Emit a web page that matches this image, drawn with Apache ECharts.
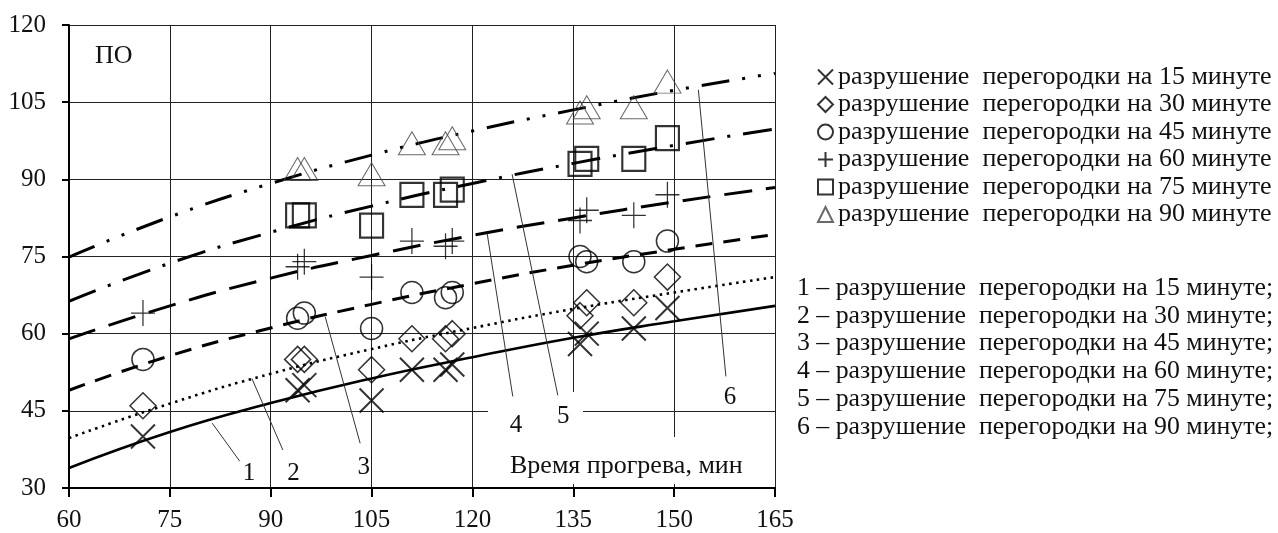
<!DOCTYPE html>
<html><head><meta charset="utf-8">
<script src="https://cdn.jsdelivr.net/npm/echarts@6/dist/echarts.min.js"></script>
<style>html,body{margin:0;padding:0;background:#fff}#c{width:1278px;height:533px}</style>
</head><body><div id="c"></div>
<script>
// ---- data ----
const xTicks = [60, 75, 90, 105, 120, 135, 150, 165];
const yTicks = [30, 45, 60, 75, 90, 105, 120];

const crossX = [71, 94, 95, 105, 111, 116, 117, 136, 137, 144, 149];
const crossY = [40, 49, 50, 47, 53, 53, 54, 58, 60, 61, 65];

const diamondX = [71, 94, 95, 105, 111, 116, 117, 136, 137, 144, 149];
const diamondY = [46, 55, 55, 53, 59, 59, 60, 63.5, 66, 66, 71];

const circleX = [71, 94, 95, 105, 111, 116, 117, 136, 137, 144, 149];
const circleY = [55, 63, 64, 61, 68, 67, 68, 75, 74, 74, 78];

const plusX = [71, 94, 95, 105, 111, 116, 117, 136, 137, 144, 149];
const plusY = [64, 73, 74, 71, 78, 77, 78, 82, 84, 83, 87];

const squareX = [94, 95, 105, 111, 116, 117, 136, 137, 144, 149];
const squareY = [83, 83, 81, 87, 87, 88, 93, 94, 94, 98];

const triangleX = [94, 95, 105, 111, 116, 117, 136, 137, 144, 149];
const triangleY = [92, 92, 91, 97, 97, 98, 103, 104, 104, 109];

const curveX = [60, 75, 90, 105, 120, 135, 150, 165];
const curve1 = [33.9, 40.9, 46.5, 51.3, 55.4, 59.2, 62.4, 65.4];
const curve2 = [39.7, 46.4, 52.2, 57.0, 61.1, 64.8, 68.0, 71.0];
const curve3 = [49.0, 55.7, 61.1, 65.7, 69.7, 73.3, 76.4, 79.3];
const curve4 = [59.0, 65.4, 70.8, 75.2, 79.1, 82.5, 85.6, 88.4];
const curve5 = [66.3, 73.7, 79.7, 84.8, 89.2, 93.1, 96.6, 99.8];
const curve6 = [74.9, 82.7, 89.2, 94.7, 99.4, 103.5, 107.3, 110.6];

const pointNames = [
  'разрушение  перегородки на 15 минуте',
  'разрушение  перегородки на 30 минуте',
  'разрушение  перегородки на 45 минуте',
  'разрушение  перегородки на 60 минуте',
  'разрушение  перегородки на 75 минуте',
  'разрушение  перегородки на 90 минуте'
];
const curveNames = [
  '1 – разрушение  перегородки на 15 минуте;',
  '2 – разрушение  перегородки на 30 минуте;',
  '3 – разрушение  перегородки на 45 минуте;',
  '4 – разрушение  перегородки на 60 минуте;',
  '5 – разрушение  перегородки на 75 минуте;',
  '6 – разрушение  перегородки на 90 минуте;'
];
const curveLabels = ['1', '2', '3', '4', '5', '6'];
const yTitle = 'ПО';
const xTitle = 'Время прогрева, мин';

// leader lines for curve labels (data coords: start on curve, end near label)
const leaders = [
  [81.3, 42.6, 85.4, 35.2],
  [87.2, 51.3, 91.8, 37.4],
  [98.1, 63.3, 103.3, 38.7],
  [122.2, 79.4, 126.0, 47.8],
  [125.9, 91.0, 132.7, 48.0],
  [153.6, 107.4, 157.7, 51.7]
];
const labelShift = [[8, -2], [10, 9], [3, 10], [3, 15], [5, 7], [4, 7]];

// ---- chart ----
const FONT = 'Liberation Serif';
const zip = (a, b) => a.map((v, i) => [v, b[i]]);

const pointSets = [
  {x: crossX, y: crossY, symbol: 'path://M0,0L10,10M10,0L0,10', size: 24, bw: 2, bc: '#000'},
  {x: diamondX, y: diamondY, symbol: 'diamond', size: [26, 26], bw: 1.5, bc: '#000'},
  {x: circleX, y: circleY, symbol: 'circle', size: 22, bw: 1.5, bc: '#000'},
  {x: plusX, y: plusY, symbol: 'path://M5,0L5,10M0,5L10,5', size: [24, 26], bw: 1.3, bc: '#000'},
  {x: squareX, y: squareY, symbol: 'rect', size: [23, 24], bw: 2.2, bc: '#000'},
  {x: triangleX, y: triangleY, symbol: 'triangle', size: [27, 23], bw: 1, bc: '#444'}
];
const curveSets = [
  {d: curve1, type: 'solid', w: 2.6},
  {d: curve2, type: [2.5, 4.5], w: 2.6},
  {d: curve3, type: [17, 11], w: 3},
  {d: curve4, type: [28, 14], w: 3},
  {d: curve5, type: [29, 13, 3, 13], w: 3},
  {d: curve6, type: [28, 13, 3, 13, 3, 13], w: 3}
];

const series = [];
curveSets.forEach((c, i) => {
  const L = leaders[i];
  series.push({
    type: 'line', name: curveNames[i], data: zip(curveX, c.d), smooth: true,
    showSymbol: false, symbol: 'none', silent: true, z: 3,
    lineStyle: {color: '#000', width: c.w, type: c.type, cap: 'butt'},
    itemStyle: {color: '#000'},
    markLine: {
      silent: true, symbol: ['none', 'none'], animation: false,
      lineStyle: {color: '#333', width: 1, type: 'solid'},
      label: {show: true, position: 'end', distance: 2, formatter: curveLabels[i],
              offset: labelShift[i],
              fontFamily: FONT, fontSize: 25, color: '#111'},
      emphasis: {disabled: true},
      data: [[{coord: [L[0], L[1]]}, {coord: [L[2], L[3]]}]]
    }
  });
});
pointSets.forEach((p, i) => {
  series.push({
    type: 'scatter', name: pointNames[i], data: zip(p.x, p.y),
    symbol: p.symbol, symbolSize: p.size, z: 4,
    itemStyle: {color: 'rgba(0,0,0,0)', borderColor: p.bc, borderWidth: p.bw}
  });
});

const chart = echarts.init(document.getElementById('c'), null, {renderer: 'canvas'});
chart.setOption({
  animation: false,
  backgroundColor: '#fff',
  grid: {left: 69, right: 503, top: 25, bottom: 43, containLabel: false},
  xAxis: {
    type: 'value', min: 60, max: 165, interval: 15,
    axisLine: {show: true, onZero: false, lineStyle: {color: '#000', width: 2}},
    axisTick: {show: true, inside: false, length: 9, lineStyle: {color: '#000', width: 2}},
    axisLabel: {margin: 20, fontFamily: FONT, fontSize: 25, color: '#111',
                formatter: v => xTicks.includes(v) ? String(v) : ''},
    splitLine: {show: true, lineStyle: {color: '#222', width: 1}}
  },
  yAxis: {
    type: 'value', min: 30, max: 120, interval: 15,
    axisLine: {show: true, onZero: false, lineStyle: {color: '#000', width: 2}},
    axisTick: {show: true, inside: false, length: 7, lineStyle: {color: '#000', width: 2}},
    axisLabel: {margin: 23, fontFamily: FONT, fontSize: 25, color: '#111',
                formatter: v => yTicks.includes(v) ? String(v) : ''},
    splitLine: {show: true, lineStyle: {color: '#222', width: 1}}
  },
  legend: [
    {
      data: pointNames, orient: 'vertical', left: 812, top: 59,
      itemWidth: 15, itemHeight: 15, itemGap: 1.5, selectedMode: false,
      textStyle: {fontFamily: FONT, fontSize: 26, color: '#111', lineHeight: 26}
    },
    {
      data: curveNames.map(n => ({name: n, icon: 'none'})), orient: 'vertical', left: 787, top: 270,
      itemWidth: 0, itemHeight: 15, itemGap: 1.8, selectedMode: false,
      textStyle: {fontFamily: FONT, fontSize: 25.8, color: '#111', lineHeight: 26}
    }
  ],
  graphic: [
    {type: 'rect', z: 1, silent: true, shape: {x: 488, y: 392, width: 95, height: 46}, style: {fill: '#fff'}},
    {type: 'rect', z: 1, silent: true, shape: {x: 488, y: 437, width: 286, height: 47}, style: {fill: '#fff'}},
    {type: 'text', z: 5, left: 510, top: 453, style: {text: xTitle, font: '26px "Liberation Serif"', fill: '#111'}},
    {type: 'text', z: 5, left: 95, top: 43, style: {text: yTitle, font: '26px "Liberation Serif"', fill: '#111'}}
  ],
  series: series
});
</script>
</body></html>
